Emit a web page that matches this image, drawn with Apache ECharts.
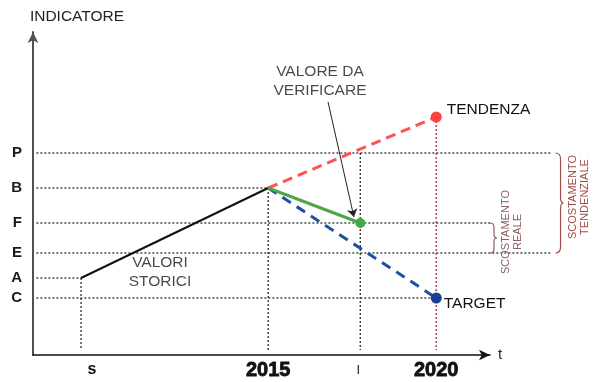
<!DOCTYPE html>
<html>
<head>
<meta charset="utf-8">
<script src="https://cdn.jsdelivr.net/npm/echarts@6/dist/echarts.min.js"></script>
<style>
  html, body { margin: 0; padding: 0; background: #fff; }
  #chart { width: 594px; height: 382px; }
</style>
</head>
<body>
<div id="chart"></div>
<script>
// ---- data -------------------------------------------------------------
const X_MIN = 2008, X_MAX = 2021.6, Y_MAX = 32.3;

const timeLabels = ['s', '2015', 'I', '2020'];
const timeValues = [2009.43, 2015, 2017.74, 2020];

const levelLabels = ['P', 'B', 'F', 'E', 'A', 'C'];
const levelValues = [20.2, 16.7, 13.2, 10.2, 7.7, 5.7];

const storici    = [[2009.43, 7.7], [2015, 16.7]];
const tendenza   = [[2015, 16.7], [2020, 23.8]];
const verificare = [[2015, 16.7], [2017.74, 13.2]];
const target     = [[2015, 16.7], [2020, 5.7]];

// right end of each level's dotted guide, top of each time guide
const levelGuideEnd = [2023.4, 2015, 2021.6, 2023.4, 2009.43, 2020];
const timeGuideTop  = [7.7, 16.7, 20.2, 23.8];

// gaps marked with a curly brace: [x, from, to]
const braceSpans = [[2021.6, 10.2, 13.2], [2023.55, 10.2, 20.2]];
const braceTexts = ['SCOSTAMENTO\nREALE', 'SCOSTAMENTO\nTENDENZIALE'];

// free notes: [x, y] and text
const notePoints = [[2016.54, 27.4], [2011.78, 8.3]];
const noteTexts  = ['VALORE DA\nVERIFICARE', 'VALORI\nSTORICI'];
const noteArrow  = [[2016.78, 25.3], [2017.55, 13.8]];

// ---- chart ------------------------------------------------------------
const FONT = "'Liberation Sans', Arial, Helvetica, sans-serif";
const nearest = (arr, v) => {
  let best = 0;
  arr.forEach((a, i) => { if (Math.abs(a - v) < Math.abs(arr[best] - v)) best = i; });
  return best;
};

// dotted guides as segments [x1, y1, x2, y2, reddish?]
const guideSegments = [];
levelValues.forEach((y, i) => guideSegments.push([X_MIN + 0.1, y, levelGuideEnd[i], y, 0]));
timeValues.forEach((x, i) => guideSegments.push([x, timeGuideTop[i], x, 0.5, i === 3 ? 1 : 0]));

const endPoint = (pt, color, size, label) => ({
  value: pt, symbol: 'circle', symbolSize: size,
  itemStyle: { color },
  label: label
});

const option = {
  animation: false,
  backgroundColor: '#fff',
  textStyle: { fontFamily: FONT },
  grid: { left: 33, right: 104, top: 32, bottom: 27, containLabel: false, outerBoundsMode: 'none' },
  xAxis: {
    type: 'value', min: X_MIN, max: X_MAX,
    name: 't', nameLocation: 'end', nameGap: 8,
    nameTextStyle: { fontFamily: FONT, fontSize: 15, color: '#222', padding: [30, 0, 0, 0] },
    axisLine: { show: true, symbol: ['none', 'arrow'], symbolSize: [8, 11],
                lineStyle: { color: '#111', width: 1.6 } },
    axisTick: { show: false },
    splitLine: { show: false },
    axisLabel: {
      customValues: timeValues, margin: 4,
      formatter: (v) => { const i = nearest(timeValues, v); return '{t' + i + '|' + timeLabels[i] + '}'; },
      rich: {
        t0: { fontFamily: FONT, fontSize: 16, fontWeight: 'bold', color: '#111', lineHeight: 22, padding: [0, 0, 0, 22] },
        t1: { fontFamily: FONT, fontSize: 20, fontWeight: 'bold', color: '#111', lineHeight: 22,
              textBorderColor: '#111', textBorderWidth: 0.8 },
        t2: { fontFamily: FONT, fontSize: 13, color: '#222', lineHeight: 22, padding: [0, 4, 0, 0] },
        t3: { fontFamily: FONT, fontSize: 20, fontWeight: 'bold', color: '#111', lineHeight: 22,
              textBorderColor: '#111', textBorderWidth: 0.8 }
      }
    }
  },
  yAxis: {
    type: 'value', min: 0, max: Y_MAX,
    name: 'INDICATORE', nameLocation: 'end', nameGap: 7,
    nameTextStyle: { fontFamily: FONT, fontSize: 15.5, color: '#222', align: 'center', padding: [0, 0, 0, 88] },
    axisLine: { show: true, symbol: ['none', 'arrow'], symbolSize: [8, 11],
                lineStyle: { color: '#4e534c', width: 2 } },
    axisTick: { show: false },
    splitLine: { show: false },
    axisLabel: {
      customValues: levelValues, margin: 11,
      fontFamily: FONT, fontSize: 15, fontWeight: 'bold', color: '#1a1a1a',
      formatter: (v) => levelLabels[nearest(levelValues, v)]
    }
  },
  series: [
    {
      name: 'guide', type: 'custom', z: 1, silent: true,
      data: guideSegments,
      renderItem: (params, api) => {
        const a = api.coord([api.value(0), api.value(1)]);
        const b = api.coord([api.value(2), api.value(3)]);
        return {
          type: 'line',
          shape: { x1: a[0], y1: a[1], x2: b[0], y2: b[1] },
          style: { stroke: api.value(4) ? '#a54545' : '#3a3a3a', lineWidth: 1.4, lineDash: [2, 2], fill: null }
        };
      }
    },
    {
      name: 'VALORI STORICI', type: 'line', symbol: 'none', z: 3,
      lineStyle: { color: '#111', width: 2 },
      data: storici
    },
    {
      name: 'TENDENZA', type: 'line', symbol: 'none', z: 3,
      lineStyle: { color: '#ff5252', width: 3, type: [10, 6] },
      data: [tendenza[0], endPoint(tendenza[1], '#ff4040', 11, {
        show: true, position: 'right', distance: 5, offset: [0, -7],
        formatter: 'TENDENZA', fontFamily: FONT, fontSize: 15.5, color: '#111'
      })]
    },
    {
      name: 'VALORE DA VERIFICARE', type: 'line', symbol: 'none', z: 4,
      lineStyle: { color: '#4aa84a', width: 3 },
      data: [verificare[0], endPoint(verificare[1], '#44a844', 10)]
    },
    {
      name: 'TARGET', type: 'line', symbol: 'none', z: 3,
      lineStyle: { color: '#1f4f9f', width: 3, type: [10, 7] },
      data: [target[0], endPoint(target[1], '#1a3f95', 11, {
        show: true, position: 'right', distance: 2, offset: [0, 6],
        formatter: 'TARGET', fontFamily: FONT, fontSize: 15.5, color: '#111'
      })]
    },
    {
      name: 'notes', type: 'scatter', symbolSize: 0, z: 5, silent: true,
      data: notePoints.map((p, i) => ({ value: p, name: noteTexts[i] })),
      label: {
        show: true, position: 'inside', formatter: '{b}',
        fontFamily: FONT, fontSize: 15.5, lineHeight: 19, color: '#1a1a1a', align: 'center'
      },
      markLine: {
        silent: true, symbol: ['none', 'arrow'], symbolSize: 8, animation: false,
        label: { show: false },
        lineStyle: { color: '#222', width: 1, type: 'solid' },
        data: [[{ coord: noteArrow[0] }, { coord: noteArrow[1] }]]
      }
    },
    {
      name: 'scostamenti', type: 'custom', z: 2, silent: true,
      data: braceSpans,
      renderItem: (params, api) => {
        const top = api.coord([api.value(0), api.value(2)]);
        const bot = api.coord([api.value(0), api.value(1)]);
        const big = params.dataIndex === 1;
        const w = big ? 5 : 4, r = big ? 6 : 4, t = 3;
        const x0 = top[0], y0 = top[1], y1 = bot[1], ym = (y0 + y1) / 2, xe = x0 + w;
        const path = [
          'M', x0, y0, 'Q', xe, y0, xe, y0 + r,
          'L', xe, ym - r, 'Q', xe, ym, xe + t, ym,
          'Q', xe, ym, xe, ym + r,
          'L', xe, y1 - r, 'Q', xe, y1, x0, y1
        ].join(' ');
        const color = big ? '#a24a4a' : '#8a6060';
        return {
          type: 'group',
          children: [
            { type: 'path', shape: { pathData: path },
              style: { stroke: color, fill: 'none', lineWidth: 1.2 } },
            { type: 'text', x: xe + t + 15, y: ym - 6, rotation: Math.PI / 2,
              style: { text: braceTexts[params.dataIndex], fill: color,
                       font: '11px ' + FONT, lineHeight: 12,
                       align: 'center', verticalAlign: 'middle' } }
          ]
        };
      }
    }
  ]
};

const chart = echarts.init(document.getElementById('chart'), null, { renderer: 'canvas' });
chart.setOption(option);
</script>
</body>
</html>
